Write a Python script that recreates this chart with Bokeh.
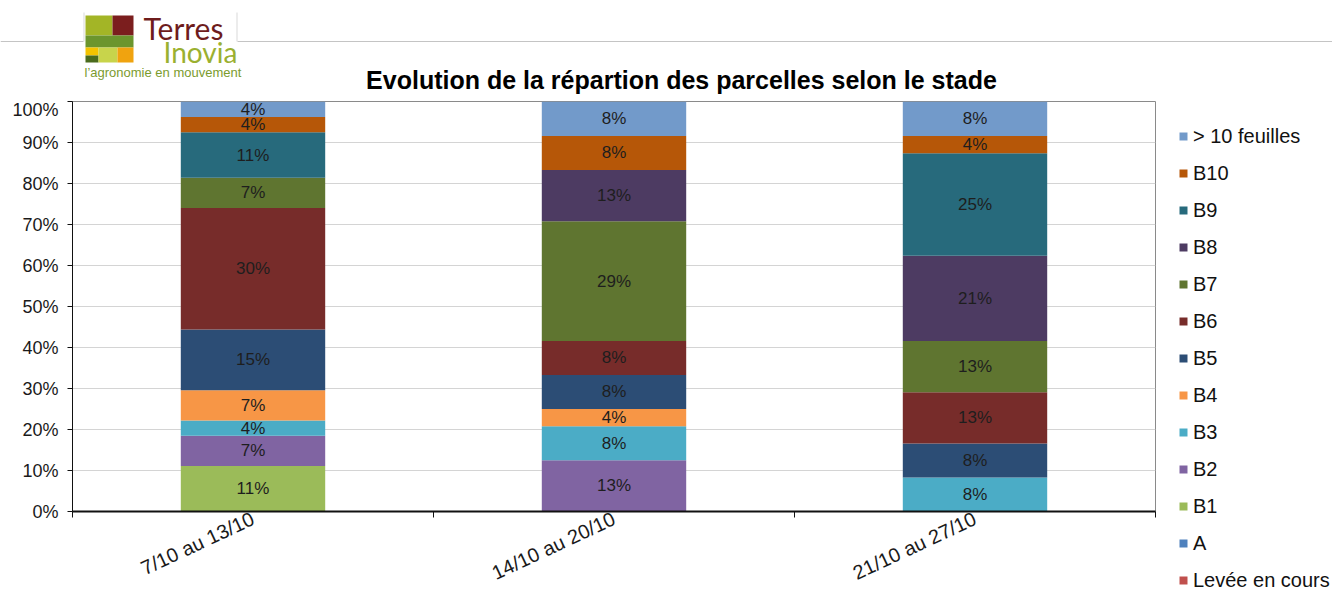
import math
import numpy as np
from bokeh.plotting import figure
from bokeh.layouts import column, row
from bokeh.models import (ColumnDataSource, Range1d, FixedTicker, PrintfTickFormatter,
                          Legend, LegendItem, Label, BoxAnnotation)
from bokeh.embed import file_html
from bokeh.resources import INLINE
from bokeh.core.properties import value

# ---------------- data ----------------
periods = ["7/10 au 13/10", "14/10 au 20/10", "21/10 au 27/10"]
stages = ["Levée en cours", "A", "B1", "B2", "B3", "B4", "B5", "B6", "B7", "B8", "B9", "B10", "> 10 feuilles"]
levee = [0.0, 0.0, 0.0]
stade_a = [0.0, 0.0, 0.0]
b1 = [11.1, 0.0, 0.0]
b2 = [7.4, 12.5, 0.0]
b3 = [3.7, 8.3, 8.3]
b4 = [7.4, 4.2, 0.0]
b5 = [14.8, 8.3, 8.3]
b6 = [29.6, 8.3, 12.5]
b7 = [7.4, 29.2, 12.5]
b8 = [0.0, 12.5, 20.8]
b9 = [11.1, 0.0, 25.0]
b10 = [3.7, 8.3, 4.2]
f10 = [3.8, 8.4, 8.4]
y_ticks = [0, 10, 20, 30, 40, 50, 60, 70, 80, 90, 100]

series = [levee, stade_a, b1, b2, b3, b4, b5, b6, b7, b8, b9, b10, f10]
colors = ["#C0504D", "#4F81BD", "#9BBB59", "#8064A2", "#4BACC6", "#F79646", "#2C4D75",
          "#772C2A", "#5F7530", "#4D3B62", "#276A7C", "#B65708", "#729ACA"]

keys = [f"s{i}" for i in range(len(stages))]
xs = [i + 0.5 for i in range(len(periods))]
data = {"x": xs}
for k, s in zip(keys, series):
    data[k] = s
src = ColumnDataSource(data)

# label positions (segment midpoints)
arr = np.array(series)
cum = np.cumsum(arr, axis=0)
lx, ly, lt = [], [], []
for si in range(arr.shape[0]):
    for ci in range(arr.shape[1]):
        v = arr[si, ci]
        if v > 0:
            lx.append(xs[ci])
            ly.append(cum[si, ci] - v / 2)
            lt.append(f"{int(v + 0.5)}%")
lab_src = ColumnDataSource(dict(x=lx, y=ly, t=lt))

FONT = "Liberation Sans"
TOTAL_W, TOTAL_H = 1332, 597
MAIN_W = 1160
LEG_W = TOTAL_W - MAIN_W
TOP_H = 99
LINE_COL = "#c4c4c4"


def blank_fig(w, h):
    f = figure(width=w, height=h, x_range=Range1d(0, 1), y_range=Range1d(0, 1),
               output_backend="svg", toolbar_location=None,
               x_axis_location=None, y_axis_location=None,
               min_border=0, min_border_left=0, min_border_right=0,
               min_border_top=0, min_border_bottom=0)
    f.outline_line_color = None
    f.xgrid.visible = False
    f.ygrid.visible = False
    return f


# ---------------- header figure (logo + title), full width ----------------
top = blank_fig(TOTAL_W, TOP_H)


def tbox(l, t, r, b, color):
    top.add_layout(BoxAnnotation(left=l, right=r, top=TOP_H - t, bottom=TOP_H - b,
                                 left_units="screen", right_units="screen",
                                 top_units="screen", bottom_units="screen",
                                 fill_color=color, fill_alpha=1, line_color=None,
                                 level="overlay"))


tbox(0, 40.5, 83, 41.5, LINE_COL)
tbox(237, 40.5, TOTAL_W, 41.5, LINE_COL)
tbox(83, 12, 84, 41, "#dadada")
tbox(236, 12, 237, 41, "#dadada")

tbox(85, 15, 112, 35, "#A3B526")
tbox(112, 15, 133, 35, "#7B1E1E")
tbox(85, 35, 133, 47, "#6B952D")
tbox(85, 47, 98, 55, "#F3C300")
tbox(85, 55, 98, 62, "#4A6B1D")
tbox(98, 47, 117, 62, "#C8D44B")
tbox(117, 47, 133, 62, "#F0A30F")

top.add_layout(Label(x=143, y=TOP_H - 27, x_units="screen", y_units="screen", text="Terres",
                     text_font="Lato", text_font_size="30px", text_color="#6E1C1C",
                     text_baseline="middle"))
top.add_layout(Label(x=163, y=TOP_H - 51, x_units="screen", y_units="screen", text="Inovia",
                     text_font="Lato", text_font_size="28px", text_color="#9BB030",
                     text_baseline="middle"))
top.add_layout(Label(x=84, y=TOP_H - 72, x_units="screen", y_units="screen",
                     text="l’agronomie en mouvement",
                     text_font=FONT, text_font_size="13px", text_color="#7B9B2E",
                     text_baseline="middle"))
top.add_layout(Label(x=681, y=TOP_H - 79, x_units="screen", y_units="screen",
                     text="Evolution de la répartion des parcelles selon le stade",
                     text_font=FONT, text_font_size="25px", text_font_style="bold",
                     text_color="#000000", text_align="center", text_baseline="middle"))

# ---------------- main chart ----------------
MAIN_H = TOTAL_H - TOP_H
FL, FR = 72, 1155
FT, FB = 101 - TOP_H, 511 - TOP_H
p = figure(width=MAIN_W, height=MAIN_H, x_range=Range1d(0, 3), y_range=Range1d(0, 100),
           output_backend="svg", toolbar_location=None,
           min_border_left=FL, min_border_right=MAIN_W - FR, min_border_top=FT,
           min_border_bottom=MAIN_H - FB)
p.background_fill_color = "white"
p.border_fill_color = "white"
p.outline_line_color = "#8a8a8a"
p.outline_line_width = 1

renderers = p.vbar_stack(keys, x="x", width=0.4, color=colors, source=src, line_color=None)

p.text(x="x", y="y", text="t", source=lab_src, text_align="center", text_baseline="middle",
       text_font=value(FONT), text_font_size="17px", text_color="#1e1e1e")

p.xgrid.visible = False
p.ygrid.ticker = FixedTicker(ticks=y_ticks)
p.ygrid.grid_line_color = "#d4d4d4"

ya = p.yaxis[0]
ya.ticker = FixedTicker(ticks=y_ticks)
ya.formatter = PrintfTickFormatter(format="%d%%")
ya.major_tick_in = 0
ya.major_tick_out = 5
ya.minor_tick_line_color = None
ya.major_label_standoff = 9
ya.major_label_text_font = FONT
ya.major_label_text_font_size = "18px"
ya.major_label_text_color = "#1a1a1a"
ya.axis_line_color = "#111111"
ya.major_tick_line_color = "#111111"

xa = p.xaxis[0]
xa.ticker = FixedTicker(ticks=xs, minor_ticks=[0, 1, 2, 3])
xa.major_label_overrides = {x: name for x, name in zip(xs, periods)}
xa.major_tick_line_color = None
xa.minor_tick_in = 0
xa.minor_tick_out = 6
xa.minor_tick_line_color = "#111111"
xa.axis_line_color = "#111111"
xa.axis_line_width = 2
xa.major_label_orientation = math.radians(25)
xa.major_label_standoff = 0
xa.major_label_text_font = FONT
xa.major_label_text_font_size = "20px"
xa.major_label_text_color = "#1a1a1a"

# ---------------- legend panel ----------------
LH, SP = 24, 13
first_center = 136 - TOP_H
leg = blank_fig(LEG_W, MAIN_H)
leg.min_border_left = 1178 - MAIN_W
leg.min_border_top = int(round(first_center - LH / 2))

proxies = leg.vbar_stack(keys, x="x", width=0.4, color=colors, source=src, line_color=None)
for r in proxies:
    r.visible = False
items = [LegendItem(label=stages[i], renderers=[proxies[i]]) for i in reversed(range(len(stages)))]
legend = Legend(items=items, location="top_left", orientation="vertical",
                glyph_width=10, glyph_height=10, label_height=LH, spacing=SP,
                padding=0, margin=0, border_line_color=None, background_fill_alpha=0,
                label_text_font=FONT, label_text_font_size="20px",
                label_standoff=5, label_text_color="#111111")
leg.add_layout(legend, "center")

layout = column(top, row(p, column(leg)))
open("out.html", "w").write(file_html(layout, INLINE))
